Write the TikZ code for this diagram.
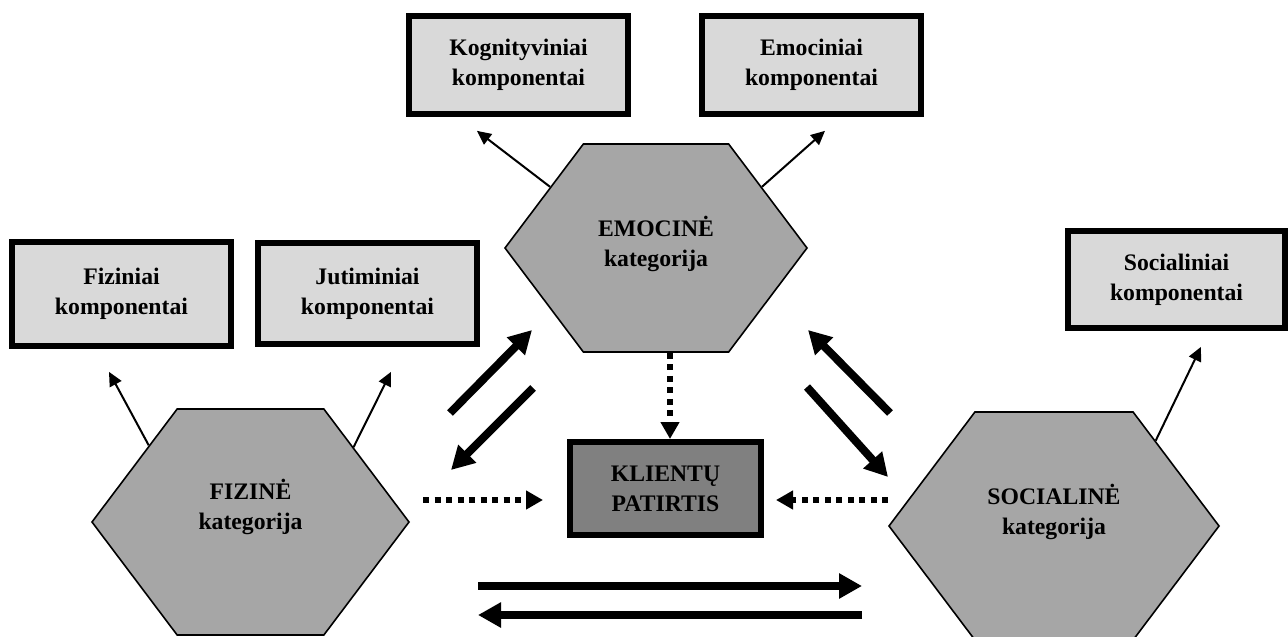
\documentclass[tikz,border=0pt]{standalone}
\usepackage{fontspec}
\setmainfont{Liberation Serif}
\usetikzlibrary{shapes.symbols,arrows.meta}

\definecolor{boxgray}{HTML}{D9D9D9}
\definecolor{catgray}{HTML}{A6A6A6}
\definecolor{coregray}{HTML}{808080}

\tikzset{
	txt/.style={align=center, font=\bfseries\fontsize{23.7}{30}\selectfont},
	comp/.style={txt, draw=black, line width=5.7pt, fill=boxgray, minimum width=219pt},
	cat/.style={signal, signal from=nowhere, signal to=west and east, signal pointer angle=106,
		draw=black, line width=1.6pt, fill=catgray},
	thinarr/.style={-{Triangle[length=14pt,width=13pt]}, line width=2pt},
	thickarr/.style={-{Triangle[length=23pt,width=24pt]}, line width=8pt},
	dotarr/.style={-{Triangle[length=17pt,width=18pt]}, line width=5.5pt, dash pattern=on 6pt off 5.5pt},
}

\begin{document}
\begin{tikzpicture}[x=1pt,y=-1pt]
	\useasboundingbox (0,0) rectangle (1288,637);
	
	% komponentai
	\node[comp, minimum height=98pt]  (kog)  at (518.5,65)    {Kognityviniai\\komponentai};
	\node[comp, minimum height=98pt]  (emoc) at (811.5,65)    {Emociniai\\komponentai};
	\node[comp, minimum height=104pt] (fizk) at (121.5,294)   {Fiziniai\\komponentai};
	\node[comp, minimum height=101pt] (jut)  at (367.5,293.5) {Jutiminiai\\komponentai};
	\node[comp, minimum width=217pt, minimum height=97pt] (socc) at (1176.5,279.5) {Socialiniai\\komponentai};
	\node[comp, fill=coregray, line width=6pt, minimum width=191pt, minimum height=93pt] (klient) at (665.5,488.5) {KLIENTŲ\\PATIRTIS};
	
	% kategorijos
	\node[cat, minimum width=302pt, minimum height=208pt] (emo) at (656,248)   {};
	\node[cat, minimum width=317pt, minimum height=226pt] (fiz) at (250.5,522) {};
	\node[cat, minimum width=330pt, minimum height=228pt] (soc) at (1054,526)  {};
	\node[txt] (emo-txt) at ([yshift=4]emo.center)  {EMOCINĖ\\kategorija};
	\node[txt] (fiz-txt) at ([yshift=15]fiz.center) {FIZINĖ\\kategorija};
	\node[txt] (soc-txt) at ([yshift=14]soc.center) {SOCIALINĖ\\kategorija};
	
	% kategorija -> komponentai
	\draw[thinarr] (emo.150) -- ([xshift=-41.5,yshift=-14]kog.south);
	\draw[thinarr] (emo.30)  -- ([xshift=13.5,yshift=-14]emoc.south);
	\draw[thinarr] (fiz.143) -- ([xshift=-12.5,yshift=-23]fizk.south);
	\draw[thinarr] (fiz.36)  -- ([xshift=23.5,yshift=-25]jut.south);
	\draw[thinarr] (soc.40)  -- ([xshift=24.5,yshift=-16]socc.south);
	
	% tarp kategoriju
	\draw[thickarr] ([shift={(199.5,-109)}]fiz.center) -- ([shift={(-124,82)}]emo.center);
	\draw[thickarr] ([shift={(-123,140)}]emo.center)  -- ([shift={(200.5,-52)}]fiz.center);
	\draw[thickarr] ([shift={(-164,-113)}]soc.center) -- ([shift={(152,82)}]emo.center);
	\draw[thickarr] ([shift={(151,139)}]emo.center)   -- ([shift={(-166,-49)}]soc.center);
	\draw[thickarr] ([shift={(227.5,64)}]fiz.center)  -- ([shift={(-192,60)}]soc.center);
	\draw[thickarr] ([shift={(-192,89)}]soc.center)   -- ([shift={(227.5,93)}]fiz.center);
	
	% i klientu patirti
	\draw[dotarr] ([xshift=14]emo.south) -- ([xshift=14]emo.south |- klient.north);
	\draw[dotarr] ([shift={(13,-22)}]fiz.east) -- ([shift={(-24,11.5)}]klient.west);
	\draw[dotarr] ([shift={(0,-26)}]soc.west)  -- ([shift={(12,11.5)}]klient.east);
	
\end{tikzpicture}
\end{document}
